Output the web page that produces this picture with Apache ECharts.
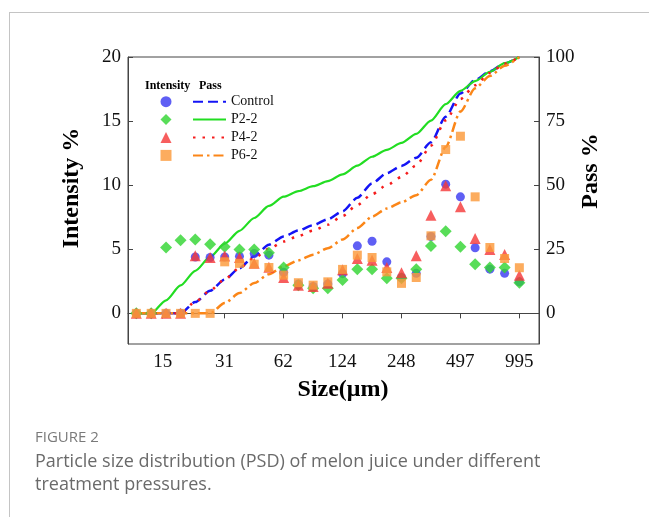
<!DOCTYPE html>
<html>
<head>
<meta charset="utf-8">
<script src="https://cdn.jsdelivr.net/npm/echarts@6/dist/echarts.min.js"></script>
<style>
  body { margin: 0; background: #fff; }
  #wrap { position: relative; width: 649px; height: 517px; overflow: hidden; }
  #frame { position: absolute; left: 9px; top: 12px; width: 660px; height: 520px;
           border-left: 1.5px solid #c4c4c4; border-top: 1.5px solid #c4c4c4; }
  #chart { position: absolute; left: 0; top: 0; width: 649px; height: 517px; }
  .cap { position: absolute; left: 35px; font-family: "Open Sans", sans-serif; color: #6a6a6a; white-space: nowrap; }
  #fig { top: 429px; font-size: 15px; line-height: 15px; color: #7a7a7a; }
  #c1 { top: 451px; font-size: 18px; line-height: 18px; }
  #c2 { top: 474px; font-size: 18px; line-height: 18px; }
</style>
</head>
<body>
<div id="wrap">
  <div id="frame"></div>
  <div id="chart"></div>
  <div class="cap" id="fig">FIGURE 2</div>
  <div class="cap" id="c1">Particle size distribution (PSD) of melon juice under different</div>
  <div class="cap" id="c2">treatment pressures.</div>
</div>
<script>
// 粒径分箱 (μm)
const sizes = [11.0, 13.1, 15.6, 18.5, 22.0, 26.2, 31.1, 37.0, 44.0, 52.3, 62.2, 74.0, 88.0, 104.6,
  124.4, 148.0, 176.0, 209.3, 248.8, 295.9, 351.8, 418.4, 497.5, 591.6, 703.6, 836.7, 995.0]

// Intensity %
const intControl = [0, 0, 0, 0, 4.40, 4.36, 4.40, 4.45, 4.67, 4.54, 3.20, 2.30, 2.10, 2.30, 3.10, 5.27, 5.63, 4.02, 2.80, 3.12, 6.00, 10.08, 9.09, 5.12, 3.45, 3.12, 2.46]
const intP22 = [0, 0, 5.14, 5.71, 5.77, 5.40, 5.19, 4.99, 4.99, 4.72, 3.58, 2.20, 1.95, 1.95, 2.60, 3.45, 3.45, 2.73, 2.73, 3.45, 5.25, 6.41, 5.19, 3.84, 3.58, 3.58, 2.39]
const intP42 = [0, 0, 0, 0, 4.49, 4.36, 4.47, 4.36, 3.90, 3.60, 2.80, 2.20, 2.10, 2.35, 3.40, 4.28, 4.15, 3.58, 3.17, 4.49, 7.66, 9.95, 8.31, 5.84, 4.99, 4.60, 2.98]
const intP62 = [0, 0, 0, 0, 0, 0, 4.02, 3.90, 3.84, 3.58, 2.98, 2.39, 2.20, 2.46, 3.43, 4.54, 4.36, 3.24, 2.34, 2.80, 6.05, 12.78, 13.82, 9.09, 5.14, 4.28, 3.56]

// Pass %
const passControl = [0, 0, 0, 0, 4.4, 8.8, 13.2, 17.6, 22.3, 26.8, 30.0, 32.3, 34.4, 36.7, 39.8, 45.1, 50.7, 54.7, 57.5, 60.7, 66.7, 76.7, 85.8, 91.0, 94.4, 97.5, 100]
const passP22 = [0, 0, 5.1, 10.9, 16.6, 22.0, 27.2, 32.2, 37.2, 41.9, 45.5, 47.7, 49.6, 51.6, 54.2, 57.6, 61.1, 63.8, 66.5, 70.0, 75.2, 81.6, 86.8, 90.6, 94.2, 97.6, 100]
const passP42 = [0, 0, 0, 0, 4.5, 8.9, 13.3, 17.7, 21.6, 25.2, 28.0, 30.2, 32.3, 34.6, 38.0, 42.3, 46.5, 50.0, 53.2, 57.7, 65.4, 75.3, 83.6, 89.0, 93.8, 97.4, 100]
const passP62 = [0, 0, 0, 0, 0, 0, 4.0, 7.9, 11.8, 15.3, 18.3, 20.7, 22.9, 25.4, 28.8, 33.3, 37.7, 40.9, 43.3, 46.1, 52.1, 64.9, 78.7, 87.8, 92.6, 96.6, 100]

// 刻度
const xTickLabels = [15, 31, 62, 124, 248, 497, 995]
const yLeftTicks = [0, 5, 10, 15, 20]
const yRightTicks = [0, 25, 50, 75, 100]

const serif = 'Liberation Serif'
const xTickVals = xTickLabels.map(v => Math.log2(v))
const toPairs = arr => arr.map((v, i) => [Math.log2(sizes[i]), v])

function scatter (name, symbol, size, color, data) {
  return {
    name, type: 'scatter', yAxisIndex: 0, symbol, symbolSize: size,
    itemStyle: { color, opacity: 0.82 },
    data: toPairs(data), z: 3
  }
}

function line (name, color, width, dash, data) {
  return {
    name, type: 'line', yAxisIndex: 1, showSymbol: false, symbol: 'none',
    smooth: 0.25, smoothMonotone: 'x',
    lineStyle: { color, width, type: dash },
    itemStyle: { color },
    data: toPairs(data), z: 2
  }
}

const chart = echarts.init(document.getElementById('chart'), null, { renderer: 'canvas' })
chart.setOption({
  animation: false,
  backgroundColor: 'transparent',
  grid: { left: 128, right: 110, top: 57, bottom: 173, show: true, borderColor: '#444', borderWidth: 1 },
  xAxis: {
    type: 'value', min: 3.318, max: 10.292,
    axisLine: { show: true, lineStyle: { color: '#444' } },
    axisTick: { show: true, customValues: xTickVals, length: 5, lineStyle: { color: '#444' } },
    axisLabel: {
      customValues: xTickVals, margin: 9, color: '#111', fontFamily: serif, fontSize: 19,
      formatter: v => {
        const i = xTickVals.findIndex(t => Math.abs(t - v) < 1e-6)
        return i >= 0 ? String(xTickLabels[i]) : ''
      }
    },
    splitLine: { show: false }
  },
  yAxis: [
    {
      type: 'value', min: -2.39, max: 20, position: 'left',
      axisLine: { show: true, lineStyle: { color: '#444' } },
      axisTick: { show: true, inside: true, length: 5, customValues: yLeftTicks, lineStyle: { color: '#444' } },
      axisLabel: { customValues: yLeftTicks, margin: 7, color: '#111', fontFamily: serif, fontSize: 19 },
      splitLine: { show: false }
    },
    {
      type: 'value', min: -11.95, max: 100, position: 'right',
      axisLine: { show: true, lineStyle: { color: '#444' } },
      axisTick: { show: true, inside: true, length: 5, customValues: yRightTicks, lineStyle: { color: '#444' } },
      axisLabel: { customValues: yRightTicks, margin: 7, color: '#111', fontFamily: serif, fontSize: 19 },
      splitLine: { show: false }
    }
  ],
  legend: [
    {
      data: ['Control ', 'P2-2 ', 'P4-2 ', 'P6-2 '],
      orient: 'vertical', left: 160.5, top: 96.2, padding: 0,
      itemWidth: 11, itemHeight: 11, itemGap: 6.9,
      selectedMode: false, formatter: () => '',
      textStyle: { fontSize: 10, lineHeight: 10 }
    },
    {
      data: ['Control', 'P2-2', 'P4-2', 'P6-2'],
      orient: 'vertical', left: 192, top: 94.7, padding: 0,
      itemWidth: 33, itemHeight: 14, itemGap: 3.9,
      selectedMode: false,
      itemStyle: { opacity: 0 },
      textStyle: { fontFamily: serif, fontSize: 14, lineHeight: 14, color: '#111' }
    }
  ],
  graphic: [
    { type: 'text', x: 145, y: 86, style: { text: 'Intensity', font: 'bold 12px "Liberation Serif"', fill: '#000', verticalAlign: 'middle', textVerticalAlign: 'middle' } },
    { type: 'text', x: 199, y: 86, style: { text: 'Pass', font: 'bold 12px "Liberation Serif"', fill: '#000', verticalAlign: 'middle', textVerticalAlign: 'middle' } },
    { type: 'text', x: 72, y: 188, rotation: Math.PI / 2, style: { text: 'Intensity %', font: 'bold 24px "Liberation Serif"', fill: '#000', align: 'center', textAlign: 'center', verticalAlign: 'middle', textVerticalAlign: 'middle' } },
    { type: 'text', x: 591, y: 171, rotation: Math.PI / 2, style: { text: 'Pass %', font: 'bold 24px "Liberation Serif"', fill: '#000', align: 'center', textAlign: 'center', verticalAlign: 'middle', textVerticalAlign: 'middle' } },
    { type: 'text', x: 343, y: 390, style: { text: 'Size(μm)', font: 'bold 24px "Liberation Serif"', fill: '#000', align: 'center', textAlign: 'center', verticalAlign: 'middle', textVerticalAlign: 'middle' } }
  ],
  series: [
    line('Control', '#1414f5', 2.5, [10, 5], passControl),
    line('P2-2', '#22dd22', 2.2, 'solid', passP22),
    line('P4-2', '#f51c1c', 2.5, [2.5, 7], passP42),
    line('P6-2', '#fb8618', 2.5, [10, 4, 2.5, 4], passP62),
    scatter('Control ', 'circle', 9, '#3c3cf2', intControl),
    scatter('P2-2 ', 'diamond', 12, '#33d633', intP22),
    scatter('P4-2 ', 'triangle', 11, '#f53a3a', intP42),
    scatter('P6-2 ', 'rect', 9, '#fb9a3a', intP62)
  ]
})
</script>
</body>
</html>
